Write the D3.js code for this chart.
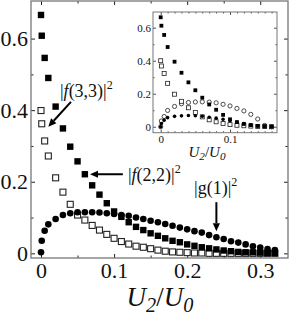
<!DOCTYPE html>
<html>
<head>
<meta charset="utf-8">
<script src="https://cdn.jsdelivr.net/npm/d3@7"></script>
<style>
  html, body { margin: 0; padding: 0; background: #fff; }
  svg { display: block; font-family: "Liberation Serif", "DejaVu Serif", serif; }
  svg text { font-family: "Liberation Serif", "DejaVu Serif", serif; }
</style>
</head>
<body>
<svg id="chart" width="289" height="332"></svg>
<script>
// main panel: U2/U0 values and the three curves
const xMain = [0, 0.001, 0.005, 0.01, 0.02, 0.03, 0.04, 0.05, 0.06, 0.07, 0.08, 0.09, 0.10,
  0.11, 0.12, 0.13, 0.14, 0.15, 0.16, 0.17, 0.18, 0.19, 0.20, 0.21, 0.22, 0.23, 0.24,
  0.25, 0.26, 0.27, 0.28, 0.29, 0.30, 0.31, 0.32];
const f22Main = [0.666, 0.608, 0.546, 0.490, 0.410, 0.349, 0.298, 0.257, 0.221, 0.190, 0.164,
  0.140, 0.117, 0.102, 0.087, 0.074, 0.065, 0.056, 0.049, 0.042, 0.035, 0.031, 0.025, 0.021,
  0.017, 0.014, 0.011, 0.008, 0.006, 0.004, 0.003, 0.003, 0.002, 0.001, 0.001];
const f33Main = [0.399, 0.362, 0.314, 0.272, 0.211, 0.171, 0.137, 0.107, 0.093, 0.078, 0.065,
  0.053, 0.042, 0.033, 0.026, 0.020, 0.017, 0.013, 0.009, 0.006, 0.004, 0.003, 0.002, 0.001,
  0.001, 0, 0, 0, 0, 0, 0, 0, 0, 0, 0];
const g1Main = [0.003, 0.035, 0.063, 0.081, 0.096, 0.107, 0.112, 0.115, 0.115, 0.115, 0.114,
  0.112, 0.110, 0.107, 0.105, 0.100, 0.096, 0.091, 0.087, 0.082, 0.077, 0.072, 0.067, 0.062,
  0.058, 0.051, 0.045, 0.040, 0.034, 0.030, 0.025, 0.020, 0.016, 0.012, 0.009];

// inset panel
const xInset = [0, 0.001, 0.005, 0.01, 0.02, 0.03, 0.04, 0.05, 0.06, 0.07, 0.08, 0.09, 0.10,
  0.11, 0.12, 0.13, 0.14, 0.15, 0.16];
const f22Inset = [0.663, 0.612, 0.556, 0.483, 0.394, 0.327, 0.269, 0.221, 0.176, 0.135, 0.103,
  0.072, 0.045, 0.028, 0.017, 0.010, 0.005, 0.002, 0.001];
const f33Inset = [0.400, 0.368, 0.322, 0.263, 0.197, 0.154, 0.115, 0.087, 0.060, 0.042, 0.030,
  0.020, 0.013, 0.009, 0.006, 0.004, 0.002, 0.001, 0];
const g1Inset = [0, 0.020, 0.040, 0.055, 0.063, 0.066, 0.068, 0.067, 0.064, 0.058, 0.052,
  0.045, 0.036, 0.028, 0.020, 0.012, 0.006, 0.002, 0];
const openCircInset = [0, 0.035, 0.062, 0.099, 0.123, 0.139, 0.147, 0.150, 0.151, 0.149, 0.145,
  0.136, 0.126, 0.111, 0.096, 0.075, 0.047, 0.008, 0];

const mainTicksX = [0, 0.1, 0.2, 0.3];
const mainMinorX = [0.05, 0.15, 0.25];
const mainTicksY = [0, 0.2, 0.4, 0.6];
const mainMinorY = [0.1, 0.3, 0.5];
const insetTicksX = [0, 0.1];
const insetMinorX = [0.01, 0.02, 0.03, 0.04, 0.05, 0.06, 0.07, 0.08, 0.09, 0.11, 0.12, 0.13, 0.14, 0.15, 0.16];
const insetTicksY = [0, 0.2, 0.4, 0.6];
const insetMinorY = [0.1, 0.3, 0.5];

// arrows and labels, in data units of the main panel
const notes = [
  { parts: [["|", ""], ["f", "i"], ["(3,3)|", ""], ["2", "sup"]], x: 0.026, y: 0.437, anchor: "start",
    from: [0.041, 0.423], to: [0.010, 0.354] },
  { parts: [["|", ""], ["f", "i"], ["(2,2)|", ""], ["2", "sup"]], x: 0.119, y: 0.202, anchor: "start",
    from: [0.112, 0.221], to: [0.067, 0.221] },
  { parts: [["|g(1)|", ""], ["2", "sup"]], x: 0.239, y: 0.166, anchor: "middle",
    from: [0.240, 0.143], to: [0.240, 0.062] }
];

const svg = d3.select("#chart");
const frameColor = "#777";
const serif = '"Liberation Serif", "DejaVu Serif", serif';

function drawPanel(g, o) {
  const x = d3.scaleLinear().domain(o.xDom).range([o.left, o.right]);
  const y = d3.scaleLinear().domain(o.yDom).range([o.bottom, o.top]);

  const axes = [
    [d3.axisBottom(x).tickValues(o.tx).tickSize(-o.major).tickPadding(o.padX).tickFormat(d3.format("")), `translate(0,${o.bottom})`, true],
    [d3.axisBottom(x).tickValues(o.mx).tickSize(-o.minor).tickFormat(""), `translate(0,${o.bottom})`],
    [d3.axisTop(x).tickValues(o.tx).tickSize(-o.major).tickFormat(""), `translate(0,${o.top})`],
    [d3.axisTop(x).tickValues(o.mx).tickSize(-o.minor).tickFormat(""), `translate(0,${o.top})`],
    [d3.axisLeft(y).tickValues(o.ty).tickSize(-o.major).tickPadding(o.padY).tickFormat(d3.format("")), `translate(${o.left},0)`, true],
    [d3.axisLeft(y).tickValues(o.my).tickSize(-o.minor).tickFormat(""), `translate(${o.left},0)`],
    [d3.axisRight(y).tickValues(o.ty).tickSize(-o.major).tickFormat(""), `translate(${o.right},0)`],
    [d3.axisRight(y).tickValues(o.my).tickSize(-o.minor).tickFormat(""), `translate(${o.right},0)`]
  ];
  axes.forEach(([ax, tr, lab]) => {
    const a = g.append("g").attr("transform", tr).call(ax)
      .attr("font-family", null).attr("font-size", null);
    a.select(".domain").remove();
    a.selectAll("line").attr("stroke", "#222").attr("stroke-width", o.tickW);
    if (lab) {
      a.selectAll("text").attr("fill", "#111")
        .style("font-family", serif).style("font-size", o.fontSize + "px");
    }
  });

  g.append("rect")
    .attr("x", o.left).attr("y", o.top)
    .attr("width", o.right - o.left).attr("height", o.bottom - o.top)
    .attr("fill", "none").attr("stroke", frameColor).attr("stroke-width", o.frameW);

  return { x, y };
}

function squares(g, sc, xs, ys, size, fill, stroke, sw) {
  g.append("g").selectAll("rect").data(xs.map((d, i) => [d, ys[i]])).enter()
    .append("rect")
    .attr("x", d => sc.x(d[0]) - size / 2)
    .attr("y", d => sc.y(d[1]) - size / 2)
    .attr("width", size).attr("height", size)
    .attr("fill", fill).attr("stroke", stroke).attr("stroke-width", sw);
}

function circles(g, sc, xs, ys, r, fill, stroke, sw) {
  g.append("g").selectAll("circle").data(xs.map((d, i) => [d, ys[i]])).enter()
    .append("circle")
    .attr("cx", d => sc.x(d[0])).attr("cy", d => sc.y(d[1])).attr("r", r)
    .attr("fill", fill).attr("stroke", stroke).attr("stroke-width", sw);
}

function xLabel(g, cx, cy, size) {
  const t = g.append("text").attr("x", cx).attr("y", cy)
    .attr("text-anchor", "middle").attr("font-size", size).attr("font-style", "italic").attr("fill", "#111");
  const sub = size * 0.75;
  t.append("tspan").text("U");
  t.append("tspan").attr("font-size", sub).attr("dy", size * 0.22).text("2");
  t.append("tspan").attr("dy", -size * 0.22).attr("font-style", "normal").text("/");
  t.append("tspan").text("U");
  t.append("tspan").attr("font-size", sub).attr("dy", size * 0.22).text("0");
}

// main panel
const main = svg.append("g");
const ms = drawPanel(main, {
  xDom: [-0.0137, 0.338], yDom: [-0.013, 0.705],
  left: 31, right: 288, top: 1, bottom: 258,
  tx: mainTicksX, mx: mainMinorX, ty: mainTicksY, my: mainMinorY,
  major: 4, minor: 2.5, padX: 4, padY: 3, fontSize: 22, tickW: 1, frameW: 1.3
});

squares(main, ms, xMain, f33Main, 6, "#fff", "#222", 1.1);
squares(main, ms, xMain, f22Main, 6.4, "#000", "none", 0);
circles(main, ms, xMain, g1Main, 3.3, "#000", "none", 0);

xLabel(svg, 160, 306, 27);

// annotations
notes.forEach(n => {
  const t = main.append("text").attr("x", ms.x(n.x)).attr("y", ms.y(n.y))
    .attr("text-anchor", n.anchor).attr("font-size", 18).attr("fill", "#111");
  n.parts.forEach(([s, kind]) => {
    const sp = t.append("tspan").text(s);
    if (kind === "i") sp.attr("font-style", "italic");
    if (kind === "sup") sp.attr("font-size", 12).attr("dy", -8);
  });
  const x1 = ms.x(n.from[0]), y1 = ms.y(n.from[1]);
  const x2 = ms.x(n.to[0]), y2 = ms.y(n.to[1]);
  const ang = Math.atan2(y2 - y1, x2 - x1);
  const len = 8, hw = 3.6;
  const bx = x2 - len * Math.cos(ang), by = y2 - len * Math.sin(ang);
  main.append("line").attr("x1", x1).attr("y1", y1).attr("x2", bx).attr("y2", by)
    .attr("stroke", "#000").attr("stroke-width", 2);
  main.append("path")
    .attr("d", `M${x2},${y2}L${bx + hw * Math.sin(ang)},${by - hw * Math.cos(ang)}L${bx - hw * Math.sin(ang)},${by + hw * Math.cos(ang)}Z`)
    .attr("fill", "#000");
});

// inset panel
const inset = svg.append("g");
inset.append("rect").attr("x", 153).attr("y", 12).attr("width", 124).attr("height", 120.7).attr("fill", "#fff");
const is = drawPanel(inset, {
  xDom: [-0.0111, 0.1678], yDom: [-0.036, 0.695],
  left: 153, right: 277, top: 12, bottom: 132.7,
  tx: insetTicksX, mx: insetMinorX, ty: insetTicksY, my: insetMinorY,
  major: 3, minor: 1.5, padX: 2.5, padY: 2, fontSize: 11, tickW: 0.8, frameW: 1
});

circles(inset, is, xInset, openCircInset, 2.1, "#fff", "#222", 0.8);
squares(inset, is, xInset, f33Inset, 4, "#fff", "#222", 0.8);
circles(inset, is, xInset, g1Inset, 1.8, "#000", "none", 0);
squares(inset, is, xInset, f22Inset, 3.8, "#000", "none", 0);

xLabel(svg, 207, 157, 15);
</script>
</body>
</html>
